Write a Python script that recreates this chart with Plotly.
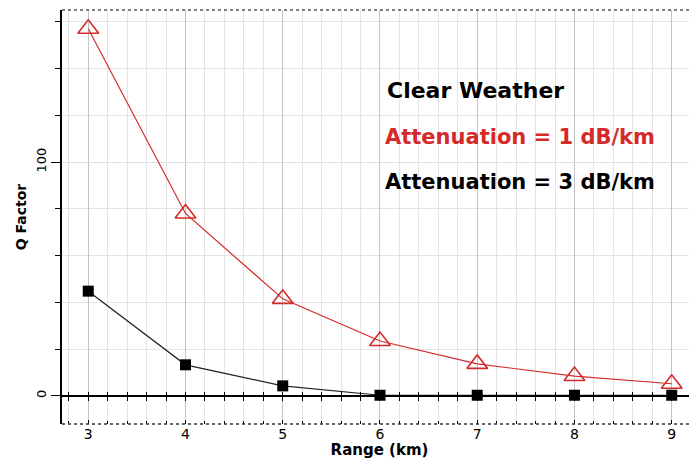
import plotly.graph_objects as go

range_km = [3, 4, 5, 6, 7, 8, 9]
q_1db = [157, 78, 41.5, 23.5, 13.7, 8.5, 5.2]
q_3db = [44.8, 13.3, 4.3, 0.3, 0.3, 0.3, 0.3]

y_tickvals = [0, 100]
y_ticktext = ["0", "100"]

RED = "#d42a2a"
FONT = "DejaVu Sans"

fig = go.Figure()
fig.add_trace(go.Scatter(x=range_km, y=q_3db, mode="lines+markers",
                         line=dict(color="#222222", width=1.2),
                         marker=dict(symbol="square", size=11, color="black"),
                         showlegend=False))
fig.add_trace(go.Scatter(x=range_km, y=q_1db, mode="lines+markers",
                         line=dict(color=RED, width=1.2),
                         marker=dict(symbol="triangle-up-open", size=18, color=RED,
                                     line=dict(width=1.6, color=RED)),
                         showlegend=False))
# empty traces so the zero-line tick axes are drawn
fig.add_trace(go.Scatter(x=[], y=[], xaxis="x2", showlegend=False))
fig.add_trace(go.Scatter(x=[], y=[], xaxis="x3", showlegend=False))

y_lo, y_hi = -12, 165
zero_pos = (0 - y_lo) / (y_hi - y_lo)

fig.update_layout(
    width=689, height=451,
    margin=dict(l=54, r=0, t=2, b=35),
    plot_bgcolor="white", paper_bgcolor="white",
    font=dict(family=FONT, color="black"),
    xaxis=dict(range=[2.73, 9.26], tickvals=range_km, showline=False, zeroline=False,
               automargin=False,
               showgrid=True, gridcolor="#c4c4c4", gridwidth=1,
               ticks="inside", ticklen=4, tickcolor="black",
               minor=dict(dtick=0.2, showgrid=True, gridcolor="#e4e4e4",
                          ticks="inside", ticklen=3, tickcolor="black"),
               tickfont=dict(size=14),
               title=dict(text="Range (km)", font=dict(size=15, weight="bold"), standoff=0)),
    xaxis2=dict(overlaying="x", matches="x", anchor="free", position=zero_pos,
                showline=True, linecolor="black", linewidth=2, automargin=False,
                ticks="outside", ticklen=4, tickcolor="black", dtick=0.2, tick0=0,
                showticklabels=False, showgrid=False, zeroline=False),
    xaxis3=dict(overlaying="x", matches="x", anchor="free", position=zero_pos,
                showline=False, ticks="inside", ticklen=4, tickcolor="black", automargin=False,
                dtick=0.2, tick0=0, showticklabels=False, showgrid=False, zeroline=False),
    yaxis=dict(range=[y_lo, y_hi], tickvals=y_tickvals, ticktext=y_ticktext,
               tickangle=-90, tickfont=dict(size=13), automargin=False,
               showline=True, linecolor="black", linewidth=2, zeroline=False,
               ticks="outside", ticklen=9, tickcolor="black",
               showgrid=True, gridcolor="#e0e0e0",
               minor=dict(dtick=20, showgrid=True, gridcolor="#e4e4e4",
                          ticks="outside", ticklen=5, tickcolor="black"),
               title=dict(text="Q Factor", font=dict(size=14, weight="bold"), standoff=4)),
    shapes=[
        dict(type="line", xref="paper", yref="paper", x0=0, x1=1, y0=1, y1=1,
             line=dict(color="#555555", width=1.5, dash="dot")),
        dict(type="line", xref="paper", yref="paper", x0=0, x1=1, y0=0, y1=0,
             line=dict(color="#333333", width=1.5, dash="dot")),
    ],
    annotations=[
        dict(x=6.05, y=130.5, xref="x", yref="y", xanchor="left", showarrow=False,
             text="Clear Weather", font=dict(size=22, weight="bold", color="black")),
        dict(x=6.03, y=110.7, xref="x", yref="y", xanchor="left", showarrow=False,
             text="Attenuation = 1 dB/km", font=dict(size=21, weight="bold", color=RED)),
        dict(x=6.03, y=91.5, xref="x", yref="y", xanchor="left", showarrow=False,
             text="Attenuation = 3 dB/km", font=dict(size=21, weight="bold", color="black")),
    ],
)

fig.write_html("out.html")
